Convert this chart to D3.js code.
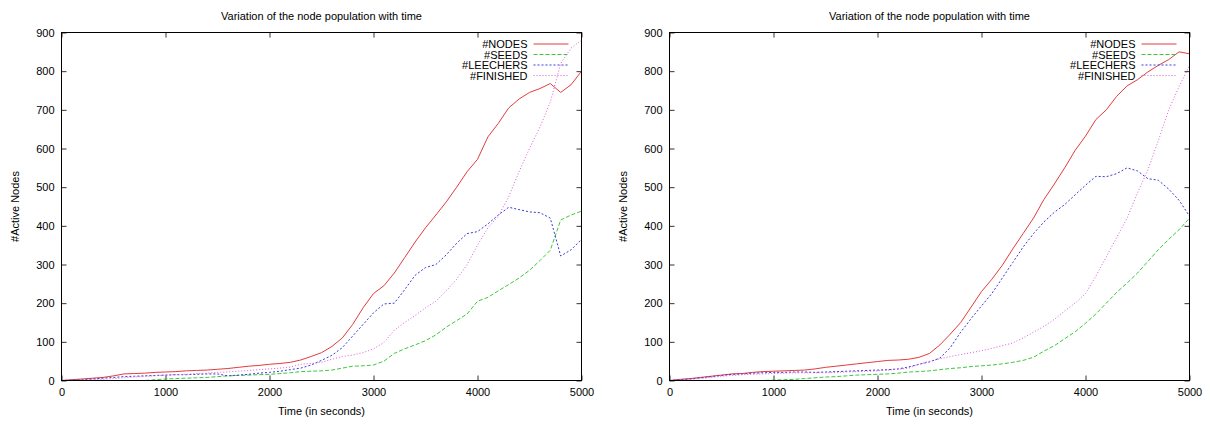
<!DOCTYPE html>
<html>
<head>
<meta charset="utf-8">
<script src="https://cdn.jsdelivr.net/npm/d3@7"></script>
<style>
  body { margin: 0; background: #fff; }
  svg text { font-family: "Liberation Sans", Arial, Helvetica, sans-serif; fill: #000; }
</style>
</head>
<body>
<svg id="chart" width="1209" height="421"></svg>
<script>
// time samples (seconds), shared by every series
const times = [0,100,200,300,400,500,600,700,800,900,1000,1100,1200,1300,1400,1500,1600,1700,1800,1900,
  2000,2100,2200,2300,2400,2500,2600,2700,2800,2900,3000,3100,3200,3300,3400,3500,3600,3700,3800,3900,
  4000,4100,4200,4300,4400,4500,4600,4700,4800,4900,5000];

const xTicks = [0, 1000, 2000, 3000, 4000, 5000];
const yTicks = [0, 100, 200, 300, 400, 500, 600, 700, 800, 900];
const seriesNames = ["#NODES", "#SEEDS", "#LEECHERS", "#FINISHED"];

// left panel
const nodesA = [0,2,4,6,8,12,17,18,19,21,22,23,25,26,27,29,31,34,37,39,42,44,47,53,62,72,88,110,145,188,
  225,245,278,318,358,395,428,462,500,540,572,630,665,705,728,745,755,768,745,765,800];
const seedsA = [0,0,0,0,0,0,0,0,0,2,4,5,6,7,8,10,12,13,14,15,16,18,20,23,24,25,27,32,37,38,
  40,50,70,82,92,103,118,138,155,172,205,215,232,248,265,285,310,337,415,428,438];
const leechA = [0,1,2,4,6,8,10,11,12,13,14,15,15,16,17,17,12,14,16,19,21,24,28,32,40,52,65,85,115,145,
  175,198,200,235,272,292,300,325,355,380,385,405,428,448,442,436,434,420,322,338,365];
const finA = [0,0,1,2,3,5,7,9,11,12,14,15,16,18,19,21,22,24,26,28,30,32,35,42,44,47,55,62,66,72,
  82,98,130,150,168,188,205,232,262,300,350,395,425,475,540,600,655,720,820,860,880];

// right panel
const nodesB = [0,3,5,8,11,14,17,18,21,23,24,25,26,27,30,34,37,40,43,46,49,52,53,55,60,70,92,120,150,190,
  230,262,298,340,380,420,468,508,550,595,632,675,700,735,762,778,798,815,830,850,845];
const seedsB = [0,0,0,0,0,0,0,0,0,0,1,2,3,5,7,9,10,12,14,15,16,17,19,22,23,25,28,31,33,36,
  38,40,43,47,52,60,76,90,108,126,148,172,200,228,252,278,308,338,365,390,420];
const leechB = [0,2,4,7,10,13,16,17,19,20,21,21,22,22,21,22,23,24,25,26,27,28,30,35,42,48,58,85,125,160,
  193,225,265,305,345,380,410,435,455,480,505,528,527,535,550,542,522,518,495,466,425];
const finB = [0,1,3,5,8,11,13,15,16,17,18,19,20,20,20,20,21,22,23,24,25,27,29,32,42,50,56,62,67,72,
  77,83,90,97,110,125,140,158,180,200,225,270,320,370,420,485,545,620,700,760,815];

const styles = [
  { color: "#e23c3c", dash: null },
  { color: "#3cc83c", dash: "4,2" },
  { color: "#3a3ad8", dash: "2,2" },
  { color: "#dc5cdc", dash: "1,2" }
];

const svg = d3.select("#chart");

function drawPanel(left, seriesList) {
  const right = left + 520, top = 32.5, bottom = 380.5;
  const x = d3.scaleLinear().domain([0, 5000]).range([left, right]);
  const y = d3.scaleLinear().domain([0, 900]).range([bottom, top]);
  const g = svg.append("g");

  g.append("text").attr("x", (left + right) / 2).attr("y", 20)
    .attr("text-anchor", "middle").attr("font-size", "11px")
    .text("Variation of the node population with time");

  // ticks inside, mirrored like gnuplot
  const fmt = d3.format("d");
  const axes = [
    [d3.axisLeft(y).tickValues(yTicks).tickSize(-5).tickPadding(7).tickFormat(fmt), `translate(${left},0)`],
    [d3.axisRight(y).tickValues(yTicks).tickSize(-5).tickFormat(""), `translate(${right},0)`],
    [d3.axisBottom(x).tickValues(xTicks).tickSize(-5).tickPadding(8).tickFormat(fmt), `translate(0,${bottom})`],
    [d3.axisTop(x).tickValues(xTicks).tickSize(-5).tickFormat(""), `translate(0,${top})`]
  ];
  axes.forEach(([ax, tr]) => {
    const a = g.append("g").attr("transform", tr).call(ax);
    a.select(".domain").remove();
    a.selectAll("line").attr("stroke", "#333");
    a.selectAll("text").attr("font-size", "11px")
      .attr("font-family", '"Liberation Sans", Arial, sans-serif');
  });

  const line = d3.line().x((d, i) => x(times[i])).y(d => y(d));
  seriesList.forEach((vals, k) => {
    g.append("path").datum(vals).attr("d", line)
      .attr("fill", "none").attr("stroke", styles[k].color)
      .attr("stroke-width", 1).attr("stroke-dasharray", styles[k].dash);
  });

  g.append("rect").attr("x", left).attr("y", top)
    .attr("width", right - left).attr("height", bottom - top)
    .attr("fill", "none").attr("stroke", "#000").attr("stroke-width", 1);

  g.append("text").attr("x", (left + right) / 2).attr("y", 415)
    .attr("text-anchor", "middle").attr("font-size", "11px").text("Time (in seconds)");

  g.append("text").attr("transform", `translate(${left - 43},${(top + bottom) / 2}) rotate(-90)`)
    .attr("text-anchor", "middle").attr("font-size", "11px").text("#Active Nodes");

  // legend
  const leg = g.append("g");
  seriesNames.forEach((name, k) => {
    const ly = 44 + k * 10.5;
    leg.append("text").attr("x", right - 54).attr("y", ly + 4)
      .attr("text-anchor", "end").attr("font-size", "11px").text(name);
    leg.append("line").attr("x1", right - 48).attr("x2", right - 13)
      .attr("y1", ly).attr("y2", ly)
      .attr("stroke", styles[k].color).attr("stroke-dasharray", styles[k].dash);
  });
}

drawPanel(61.5, [nodesA, seedsA, leechA, finA]);
drawPanel(669.5, [nodesB, seedsB, leechB, finB]);
</script>
</body>
</html>
